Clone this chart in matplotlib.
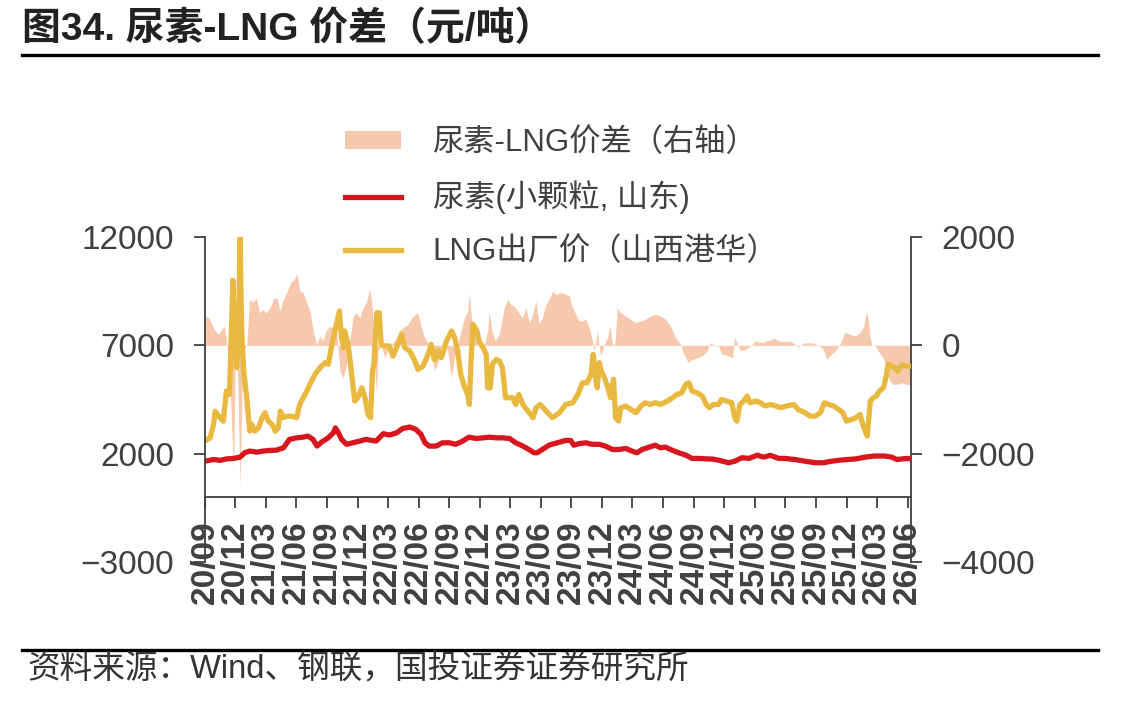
import matplotlib
matplotlib.use('Agg')
import matplotlib.pyplot as plt
import matplotlib.dates as mdates
from matplotlib.patches import Patch
from matplotlib.lines import Line2D
import numpy as np
import pandas as pd

plt.rcParams['font.family'] = ['Liberation Sans', 'Noto Sans CJK SC']
plt.rcParams['axes.unicode_minus'] = True

# 数据：横轴为距 2020-09-01 的月数
start = pd.Timestamp('2020-09-01')

lng_month = [0.0, 0.5, 0.85, 1.0, 1.33, 1.8, 2.1, 2.4, 2.5, 2.74,
             2.9, 3.1, 3.3, 3.45, 3.6, 3.8, 4.1, 4.4, 4.6, 4.9,
             5.25, 5.6, 5.9, 6.2, 6.6, 6.9, 7.2, 7.4, 7.7, 8.0,
             8.5, 9.0, 9.3, 10.0, 10.3, 10.8, 11.3, 11.8, 12.1, 12.4,
             12.75, 13.2, 13.4, 13.6, 13.7, 14.05, 14.4, 14.7, 15.0, 15.4,
             15.7, 16.0, 16.25, 16.45, 16.6, 16.85, 17.1, 17.3, 17.6, 18.1,
             18.45, 18.8, 19.3, 19.6, 20.1, 20.6, 20.9, 21.4, 21.9, 22.2,
             22.5, 22.9, 23.2, 23.7, 24.2, 24.5, 24.8, 25.1, 25.5, 25.8,
             25.95, 26.1, 26.3, 26.7, 26.9, 27.3, 27.6, 27.75, 28.0, 28.2,
             28.6, 28.9, 29.2, 29.5, 29.9, 30.2, 30.5, 30.8, 31.2, 31.7,
             32.2, 32.5, 32.9, 33.2, 33.5, 34.1, 34.8, 35.4, 36.1, 36.6,
             37.05, 37.5, 37.9, 38.1, 38.3, 38.5, 38.7, 38.9, 39.2, 39.5,
             39.8, 40.1, 40.3, 40.6, 40.8, 41.3, 41.8, 42.3, 42.8, 43.2,
             43.7, 44.2, 44.7, 45.4, 45.9, 46.3, 46.8, 47.2, 47.5, 47.8,
             48.3, 48.8, 49.2, 49.5, 49.9, 50.4, 50.7, 51.2, 51.7, 52.0,
             52.2, 52.5, 52.9, 53.2, 53.5, 54.0, 54.5, 55.0, 55.5, 56.0,
             56.5, 57.1, 57.8, 58.2, 58.9, 59.4, 59.9, 60.4, 60.8, 61.2,
             61.7, 62.2, 62.6, 62.95, 63.5, 63.9, 64.3, 64.5, 64.8, 65.0,
             65.3, 65.6, 65.9, 66.2, 66.6, 66.9, 67.05, 67.4, 67.7, 68.0,
             68.4, 68.85, 69.3]
lng_price = [2580, 2730, 3350, 3960, 3730, 3500, 4890, 4730, 6120, 10000,
             7660, 5970, 7660, 11970, 7660, 5810, 4580, 3040, 3350, 3040,
             3190, 3660, 3890, 3500, 3350, 3040, 3190, 3960, 3660, 3730,
             3730, 3660, 4270, 4890, 5200, 5660, 5970, 6200, 6120, 6890,
             7660, 8580, 7350, 6890, 7660, 7040, 5660, 4430, 4580, 5040,
             4580, 3810, 3660, 5800, 6200, 8500, 8500, 7040, 6970, 6970,
             6500, 6890, 7510, 6890, 6740, 6270, 5890, 6040, 6580, 7040,
             6350, 6740, 6430, 7200, 7660, 7350, 6740, 5660, 5040, 4730,
             4270, 6120, 7970, 7660, 7200, 6890, 6580, 5040, 5040, 6120,
             6350, 6270, 5970, 4580, 4580, 4580, 4270, 4730, 4270, 3960,
             3660, 4120, 4270, 4120, 3960, 3660, 3890, 4270, 4350, 4730,
             5270, 5270, 5660, 6580, 5660, 5040, 6200, 5810, 5500, 5120,
             4580, 5430, 3660, 3500, 4120, 4200, 4040, 3890, 4200, 4350,
             4270, 4350, 4270, 4430, 4580, 4730, 4810, 5200, 5270, 4890,
             4810, 4660, 4270, 4120, 4270, 4270, 4500, 4430, 4350, 3660,
             3500, 4270, 4430, 4660, 4350, 4430, 4350, 4200, 4270, 4200,
             4120, 4200, 4270, 4040, 3890, 3730, 3730, 3890, 4350, 4270,
             4200, 4040, 3890, 3500, 3580, 3660, 3810, 3430, 3040, 2810,
             4430, 4580, 4660, 4890, 5040, 5660, 6120, 6040, 5970, 5810,
             6090, 6040, 6040]

urea_month = [0.0, 0.85, 1.5, 2.15, 2.8, 3.45, 3.9, 4.4, 5.1, 5.7,
              6.4, 7.0, 7.7, 8.3, 9.0, 9.6, 10.1, 10.6, 11.0, 11.5,
              12.1, 12.6, 12.8, 13.1, 13.4, 13.9, 14.5, 15.2, 15.8, 16.5,
              16.8, 17.5, 18.1, 18.8, 19.4, 20.1, 20.7, 21.2, 21.6, 22.0,
              22.7, 23.3, 24.0, 24.6, 25.3, 25.9, 26.6, 27.3, 27.9, 28.6,
              29.2, 29.9, 30.5, 31.2, 31.8, 32.3, 32.6, 33.1, 33.8, 34.8,
              35.4, 35.9, 36.2, 36.7, 37.4, 38.0, 38.7, 39.3, 40.0, 40.6,
              41.3, 41.9, 42.4, 42.9, 43.6, 44.2, 44.7, 45.2, 45.9, 46.5,
              47.2, 47.8, 48.5, 49.1, 49.8, 50.4, 51.4, 52.0, 52.7, 53.4,
              54.2, 54.8, 55.5, 56.3, 56.9, 57.9, 58.9, 59.9, 60.7, 61.5,
              62.3, 63.1, 63.9, 64.8, 65.7, 66.7, 67.4, 67.9, 68.5, 69.0,
              69.3]
urea_price = [1655, 1730, 1690, 1760, 1780, 1840, 2040, 2120, 2070, 2120,
              2150, 2160, 2270, 2660, 2730, 2760, 2810, 2660, 2350, 2550,
              2730, 2960, 3190, 2960, 2660, 2430, 2500, 2580, 2660, 2600,
              2580, 2920, 2860, 2960, 3160, 3230, 3120, 2890, 2500, 2350,
              2350, 2500, 2500, 2430, 2580, 2760, 2700, 2730, 2760, 2730,
              2730, 2700, 2500, 2350, 2190, 2040, 2040, 2190, 2400, 2530,
              2610, 2610, 2390, 2460, 2500, 2430, 2430, 2350, 2190, 2190,
              2240, 2120, 2040, 2190, 2300, 2390, 2270, 2300, 2150, 2040,
              1930, 1780, 1780, 1760, 1750, 1700, 1580, 1650, 1810, 1780,
              1930, 1840, 1920, 1780, 1780, 1730, 1650, 1580, 1580, 1650,
              1700, 1730, 1760, 1840, 1890, 1890, 1840, 1730, 1760, 1780,
              1750]

spread_month = [0.0, 0.36, 0.68, 1.01, 1.33, 1.66, 1.89, 2.08, 2.31, 2.54,
                2.80, 2.96, 3.19, 3.45, 3.62, 3.78, 4.11, 4.37, 4.69, 5.02,
                5.35, 5.67, 6.0, 6.39, 6.78, 7.11, 7.37, 7.69, 8.09, 8.41,
                8.74, 9.06, 9.32, 9.65, 9.98, 10.3, 10.63, 10.96, 11.28, 11.54,
                11.87, 12.26, 12.59, 12.91, 13.24, 13.57, 13.89, 14.22, 14.54, 14.87,
                15.2, 15.52, 15.85, 16.17, 16.43, 16.6, 16.83, 16.99, 17.31, 17.64,
                18.13, 18.62, 19.1, 19.43, 19.92, 20.41, 20.9, 21.23, 21.55, 21.88,
                22.2, 22.53, 22.86, 23.18, 23.51, 23.84, 24.16, 24.49, 24.98, 25.47,
                25.79, 25.95, 26.12, 26.35, 26.77, 27.1, 27.42, 27.75, 27.91, 28.17,
                28.5, 28.89, 29.38, 29.7, 30.03, 30.36, 30.68, 31.17, 31.5, 31.83,
                32.15, 32.48, 32.8, 33.13, 33.46, 33.78, 34.11, 34.44, 34.77, 35.09,
                35.42, 35.75, 36.07, 36.4, 36.72, 37.05, 37.38, 37.7, 38.03, 38.19,
                38.52, 38.68, 38.84, 39.17, 39.5, 39.76, 39.99, 40.25, 40.47, 40.8,
                41.29, 41.78, 42.27, 42.76, 43.25, 43.74, 44.23, 44.71, 45.2, 45.69,
                46.18, 46.67, 47.0, 47.42, 47.81, 48.3, 48.79, 49.28, 49.61, 50.1,
                50.42, 50.74, 51.4, 51.79, 51.98, 52.31, 52.54, 53.03, 53.52, 54.01,
                54.66, 55.31, 55.96, 56.29, 56.78, 57.43, 57.92, 58.25, 58.9, 59.55,
                60.2, 60.69, 61.02, 61.44, 61.83, 62.32, 62.81, 63.3, 63.79, 64.28,
                64.61, 64.93, 65.1, 65.26, 65.49, 65.75, 66.07, 66.56, 66.89, 67.22,
                67.54, 68.03, 68.36, 68.85, 69.17, 69.33]
spread_value = [540, 510, 390, 265, 205, 295, 355, 145, -230, -1090,
                -2300, -350, -470, -2620, -960, -100, 20, 850, 790, 880,
                600, 665, 600, 695, 880, 850, 630, 850, 1000, 1160,
                1220, 1310, 1000, 970, 790, 630, 265, 20, 175, 80,
                265, 355, 325, 325, -470, -600, -350, 100, 540, 600,
                510, 695, 790, 1060, 695, -100, -900, -105, 0, -230,
                0, 80, 265, 325, 390, 540, 600, 325, 145, 50,
                -105, -470, -320, -40, 0, -105, -600, -230, 145, 510,
                630, 970, 570, 265, 80, -40, 20, 265, 630, 265,
                80, 205, 695, 850, 755, 725, 630, 510, 695, 420,
                570, 820, 400, 510, 757, 850, 1000, 940, 970, 970,
                940, 910, 695, 570, 450, 450, 480, 325, 80, -105,
                265, 0, -195, 0, 145, 355, 0, 50, 695, 600,
                540, 480, 420, 450, 480, 540, 570, 540, 480, 355,
                145, 20, -165, -320, -260, -230, -195, -105, 50, -15,
                -15, -165, -195, -230, 155, 0, -105, -75, -15, 80,
                50, 90, 130, 80, 70, 80, 15, -30, 50, 45,
                5, -75, -260, -165, -105, 15, 235, 205, 175, 235,
                325, 630, 480, 145, -10, 15, -105, -230, -410, -660,
                -720, -720, -690, -720, -720, -720]


def to_dates(months):
    return start + pd.to_timedelta(np.array(months) * 30.44, unit='D')


c_red = '#D7161E'
c_yellow = '#E9B83E'
c_pink = '#F7C9AC'
c_text = '#404040'

fig = plt.figure(figsize=(11.47, 7.03), dpi=100)
ax = fig.add_axes([0.1787, 0.2006, 0.6156, 0.4623])
ax2 = ax.twinx()
ax.set_zorder(ax2.get_zorder() + 1)
ax.patch.set_visible(False)

# 价差面积（右轴）
ax2.fill_between(to_dates(spread_month), 0, spread_value, color=c_pink, linewidth=0)
# 价格线（左轴）
ax.plot(to_dates(urea_month), urea_price, color=c_red, lw=3.8, solid_capstyle='round')
ax.plot(to_dates(lng_month), lng_price, color=c_yellow, lw=3.8, solid_capstyle='round')

ax.set_ylim(-3000, 12000)
ax.set_yticks([-3000, 2000, 7000, 12000])
ax2.set_ylim(-4000, 2000)
ax2.set_yticks([-4000, -2000, 0, 2000])
ax.set_xlim(start, start + pd.Timedelta(days=69.3 * 30.44))

ax.xaxis.set_major_locator(mdates.MonthLocator(bymonth=[3, 6, 9, 12]))
ax.xaxis.set_major_formatter(mdates.DateFormatter('%y/%m'))

for s in ['top', 'right']:
    ax.spines[s].set_visible(False)
for s in ['top', 'bottom', 'left']:
    ax2.spines[s].set_visible(False)
ax.spines['bottom'].set_position(('data', 0))
for s in [ax.spines['left'], ax.spines['bottom'], ax2.spines['right']]:
    s.set_color(c_text)
    s.set_linewidth(1.3)

ax.tick_params(axis='y', direction='out', length=8, width=1.3, color=c_text,
               labelsize=24, labelcolor=c_text, pad=14)
ax2.tick_params(axis='y', direction='out', length=8, width=1.3, color=c_text,
                labelsize=24, labelcolor=c_text, pad=14)
ax.tick_params(axis='x', direction='out', length=8, width=1.3, color=c_text,
               labelsize=24, labelcolor=c_text, pad=9, labelrotation=90)
ax2.tick_params(axis='x', bottom=False, labelbottom=False)
for lab in ax.get_xticklabels():
    lab.set_fontweight('bold')

handles = [Patch(facecolor=c_pink, edgecolor='none'),
           Line2D([], [], color=c_red, lw=3.8),
           Line2D([], [], color=c_yellow, lw=3.8)]
labels = ['尿素-LNG价差（右轴）', '尿素(小颗粒, 山东)', 'LNG出厂价（山西港华）']
leg = fig.legend(handles, labels, loc='upper left', bbox_to_anchor=(0.3008, 0.818),
                 frameon=False, fontsize=22.5, handlelength=1.8, handleheight=0.5,
                 handletextpad=1.0, labelspacing=0.72, borderpad=0, borderaxespad=0)
for t in leg.get_texts():
    t.set_color(c_text)

# 标题与来源
fig.text(0.019, 1 - 29 / 703, '图34. 尿素-LNG 价差（元/吨）', fontsize=28,
         fontweight='bold', color='#222222', va='center', ha='left')
fig.add_artist(Line2D([22 / 1147, 1098 / 1147], [1 - 55 / 703, 1 - 55 / 703],
                      color='black', lw=2.4))
fig.add_artist(Line2D([22 / 1147, 1098 / 1147], [1 - 650 / 703, 1 - 650 / 703],
                      color='black', lw=2.4))
fig.text(0.024, 1 - 670 / 703, '资料来源：Wind、钢联，国投证券证券研究所', fontsize=23.5,
         color='#333333', va='center', ha='left')

fig.savefig('out.png', dpi=100)
